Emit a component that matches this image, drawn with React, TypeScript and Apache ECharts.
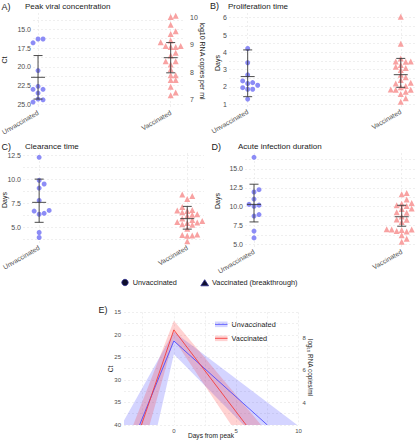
import React, { useEffect, useRef } from 'react';
import * as echarts from 'echarts';

const FONT = '"Liberation Sans", Arial, Helvetica, sans-serif';

// ---------- data ----------
const groups = ['Unvaccinated', 'Vaccinated'];

// A) Peak viral concentration
const peakCtUnvax = [16.3, 16.3, 16.8, 20.5, 22.6, 23.0, 23.0, 23.5, 24.3, 24.4, 24.7];
const peakLogVax = [10.08, 10.04, 9.75, 9.51, 9.41, 9.17, 9.1, 9.1, 8.96, 8.96, 8.93, 8.93, 8.71, 8.61, 8.4, 8.4, 8.28, 8.1, 7.88, 7.88, 7.7, 7.7, 7.45, 7.24, 7.14];
const peakStatUnvax = [21.4, 18.5, 24.3]; // mean, low, high (Ct)
const peakStatVax = [8.53, 7.97, 9.09]; // mean, low, high (log10)

// B) Proliferation time
const prolifUnvax = [4.22, 3.4, 2.7, 2.35, 2.25, 2.2, 2.1, 1.96, 1.87, 1.87, 1.3];
const prolifVax = [6.05, 4.5, 3.65, 3.47, 3.47, 3.45, 3.27, 3.17, 3.1, 2.98, 2.7, 2.56, 2.4, 2.25, 2.2, 2.06, 1.98, 1.98, 1.86, 1.84, 1.84, 1.72, 1.6, 1.35, 1.15];
const prolifStats = [[2.6, 1.44, 4.14], [2.71, 1.98, 3.65]];

// C) Clearance time
const clearUnvax = [12.33, 9.93, 9.55, 9.13, 7.84, 6.8, 6.73, 6.5, 6.4, 4.5, 3.98];
const clearVax = [8.45, 8.3, 8.0, 7.15, 6.85, 6.8, 6.75, 6.6, 6.4, 6.35, 6.25, 5.95, 5.8, 5.7, 5.6, 5.55, 5.5, 5.35, 5.3, 4.9, 4.3, 4.25, 4.2, 4.15, 3.6];
const clearStats = [[7.64, 5.56, 10.06], [5.94, 4.85, 7.22]];

// D) Acute infection duration
const acuteUnvax = [16.55, 12.25, 11.95, 11.0, 10.3, 10.2, 10.05, 8.95, 8.75, 6.75, 5.85];
const acuteVax = [11.8, 11.65, 10.95, 10.5, 10.4, 10.2, 10.1, 9.75, 9.7, 9.25, 9.2, 8.7, 8.3, 8.25, 7.95, 7.0, 7.0, 6.95, 6.95, 6.9, 6.75, 6.7, 6.2, 5.75, 5.35];
const acuteStats = [[10.3, 7.97, 12.98], [8.66, 7.4, 10.18]];

// E) Trajectories (days from peak, Ct)
const trajDaysUnvax = [-2.75, 0, 7.5];
const trajCtUnvax = [40, 21.35, 40];
const trajDaysVax = [-2.6, 0, 5.8];
const trajCtVax = [40, 18.9, 40];
const bandUnvax = [[-4, 40], [-4, 39], [0, 19.3], [9.9, 40], [5.6, 40], [0, 24.3], [-1.3, 40]];
const bandVax = [[-3.26, 40], [0, 16.9], [7.0, 40], [4.6, 40], [0, 21.0], [-1.95, 40]];

// tick labels
const ctTicksA = [15, 17.5, 20, 22.5, 25];
const logTicksA = [7, 8, 9, 10];
const dayTicksB = [1, 2, 3, 4, 5, 6];
const dayTicksC = [5, 7.5, 10, 12.5];
const dayTicksD = [5, 7.5, 10, 12.5, 15];
const ctTicksE = [15, 20, 25, 30, 35, 40];
const logTicksE = [4, 6, 8];
const dayTicksE = [0, 5, 10];

// ---------- layout ----------
type Panel = { left: number; top: number; width: number; height: number; xMin: number; xMax: number; yMin: number; yMax: number };
const PA: Panel = { left: 33, top: 13, width: 152, height: 95, xMin: -0.038, xMax: 1.108, yMin: 12.83, yMax: 25.49 };
const PA_R = { yMin: 6.667, yMax: 10.185 };
const PB: Panel = { left: 229, top: 13, width: 186, height: 94, xMin: -0.122, xMax: 1.093, yMin: 0.844, yMax: 6.271 };
const PC: Panel = { left: 23, top: 153, width: 181, height: 90, xMin: -0.109, xMax: 1.113, yMin: 3.406, yMax: 12.78 };
const PD: Panel = { left: 245, top: 153, width: 170, height: 94, xMin: -0.061, xMax: 1.09, yMin: 4.64, yMax: 17.125 };
const PE: Panel = { left: 124, top: 312.3, width: 174.5, height: 112.7, xMin: -4, xMax: 10, yMin: 15, yMax: 40 };
const PE_R = { yMin: 2.61, yMax: 9.61 };

const BLUE_PT = '#8c8cf6';
const RED_PT = '#f8a2a2';
const BAR = '#383838';
const GRID_LINE = { show: true, lineStyle: { color: '#e4e4e4', width: 0.6, type: [2, 2] as any } };
const TICK_TEXT = { fontSize: 7, color: '#4d4d4d', fontFamily: FONT };

function range(a: number, b: number, step: number) {
  const out: number[] = [];
  for (let v = a; v <= b + 1e-9; v += step) out.push(Math.round(v * 1000) / 1000);
  return out;
}

function swarm(vals: number[], pxY: number, pxX: number, d: number): number[] {
  const order = vals.map((_, i) => i).sort((a, b) => vals[a] - vals[b]);
  const placed: [number, number][] = [];
  const out = vals.map(() => 0);
  for (const i of order) {
    const y = vals[i] * pxY;
    for (let k = 0; k < 40; k++) {
      const step = Math.ceil(k / 2) * (k % 2 === 1 ? 1 : -1);
      const x = step * d;
      if (placed.every(([px, py]) => (px - x) ** 2 + (py - y) ** 2 >= d * d * 0.92)) {
        placed.push([x, y]);
        out[i] = x / pxX;
        break;
      }
    }
  }
  return out;
}

function pxPer(p: Panel, yMin = p.yMin, yMax = p.yMax) {
  return { x: p.width / (p.xMax - p.xMin), y: p.height / (yMax - yMin) };
}

function scatterSeries(vals: number[], cat: number, pxY: number, pxX: number, xi: number, yi: number, tri: boolean) {
  const off = swarm(vals, pxY, pxX, 5);
  return {
    type: 'scatter',
    xAxisIndex: xi,
    yAxisIndex: yi,
    symbol: tri ? 'triangle' : 'circle',
    symbolSize: tri ? 6 : 5,
    itemStyle: { color: tri ? RED_PT : BLUE_PT, opacity: 1 },
    data: vals.map((v, i) => [cat + off[i], v]),
    z: 2,
    silent: true,
  };
}

function errRender(params: any, api: any) {
  const x = api.value(0);
  const pm = api.coord([x, api.value(1)]);
  const pl = api.coord([x, api.value(2)]);
  const ph = api.coord([x, api.value(3)]);
  const st = { stroke: BAR, lineWidth: 0.9 };
  return {
    type: 'group',
    children: [
      { type: 'line', shape: { x1: pl[0], y1: pl[1], x2: ph[0], y2: ph[1] }, style: st },
      { type: 'line', shape: { x1: pl[0] - 4.5, y1: pl[1], x2: pl[0] + 4.5, y2: pl[1] }, style: st },
      { type: 'line', shape: { x1: ph[0] - 4.5, y1: ph[1], x2: ph[0] + 4.5, y2: ph[1] }, style: st },
      { type: 'line', shape: { x1: pm[0] - 7, y1: pm[1], x2: pm[0] + 7, y2: pm[1] }, style: st },
    ],
  };
}

function errSeries(stats: number[][], cats: number[], xi: number, yi: number) {
  return {
    type: 'custom',
    xAxisIndex: xi,
    yAxisIndex: yi,
    renderItem: errRender,
    encode: { x: 0, y: [1, 2, 3] },
    data: stats.map((s, i) => [cats[i], s[0], s[1], s[2]]),
    z: 3,
    silent: true,
  };
}

function bandSeries(band: number[][], fill: string) {
  return {
    type: 'custom',
    xAxisIndex: 4,
    yAxisIndex: 5,
    silent: true,
    encode: { x: 0, y: 1 },
    data: band,
    z: 1,
    renderItem: (params: any, api: any) => {
      if (params.dataIndex !== 0) return null;
      return {
        type: 'polygon',
        shape: { points: band.map((p) => api.coord(p)) },
        style: { fill, stroke: 'none' },
      };
    },
  };
}

function catXAxis(p: Panel, gi: number) {
  return {
    type: 'value',
    gridIndex: gi,
    min: p.xMin,
    max: p.xMax,
    axisLine: { show: false },
    axisTick: { show: false, customValues: [0, 1] },
    axisLabel: {
      ...TICK_TEXT,
      fontSize: 6.8,
      customValues: [0, 1],
      formatter: (v: number) => groups[Math.round(v)],
      rotate: 30,
      margin: 4,
    },
    splitLine: GRID_LINE,
  };
}

function valYAxis(gi: number, min: number, max: number, ticks: number[], labels: number[], fmt: (v: number) => string, opts: any = {}) {
  return {
    type: 'value',
    gridIndex: gi,
    min,
    max,
    axisLine: { show: false },
    axisTick: { show: false, customValues: ticks },
    axisLabel: { ...TICK_TEXT, customValues: labels, formatter: fmt, margin: 2 },
    splitLine: GRID_LINE,
    ...opts,
  };
}

function txt(text: string, x: number, y: number, size: number, opts: any = {}) {
  return {
    type: 'text',
    x,
    y,
    rotation: opts.rotation || 0,
    silent: true,
    style: {
      text,
      fontSize: size,
      fontFamily: FONT,
      fill: opts.fill || '#1a1a1a',
      align: opts.align || 'left',
      verticalAlign: 'middle',
    },
  };
}

function buildOption() {
  const a = pxPer(PA);
  const aR = pxPer(PA, PA_R.yMin, PA_R.yMax);
  const b = pxPer(PB);
  const c = pxPer(PC);
  const d = pxPer(PD);
  const f1 = (v: number) => v.toFixed(1);
  const f0 = (v: number) => String(v);

  const grids = [PA, PB, PC, PD, PE].map((p) => ({
    left: p.left,
    top: p.top,
    width: p.width,
    height: p.height,
    containLabel: false,
    outerBoundsMode: 'none',
  }));

  const xAxis: any[] = [
    catXAxis(PA, 0),
    catXAxis(PB, 1),
    catXAxis(PC, 2),
    catXAxis(PD, 3),
    {
      type: 'value',
      gridIndex: 4,
      min: PE.xMin,
      max: PE.xMax,
      axisLine: { show: false },
      axisTick: { show: false, customValues: range(-2.5, 10, 2.5) },
      axisLabel: { ...TICK_TEXT, fontSize: 6, customValues: dayTicksE, formatter: f0, margin: 3 },
      splitLine: GRID_LINE,
    },
  ];

  const yAxis: any[] = [
    valYAxis(0, PA.yMin, PA.yMax, range(13.75, 25, 1.25), ctTicksA, f1, { inverse: true }),
    valYAxis(0, PA_R.yMin, PA_R.yMax, logTicksA, logTicksA, f0, { position: 'right', splitLine: { show: false }, axisLabel: { ...TICK_TEXT, customValues: logTicksA, formatter: f0, margin: 5 } }),
    valYAxis(1, PB.yMin, PB.yMax, range(1, 6, 0.5), dayTicksB, f0),
    valYAxis(2, PC.yMin, PC.yMax, range(3.75, 12.5, 1.25), dayTicksC, f1),
    valYAxis(3, PD.yMin, PD.yMax, range(5, 16.25, 1.25), dayTicksD, f1),
    valYAxis(4, PE.yMin, PE.yMax, range(15, 40, 2.5), ctTicksE, f0, { inverse: true, axisLabel: { ...TICK_TEXT, fontSize: 6, customValues: ctTicksE, formatter: f0, margin: 3 } }),
    valYAxis(4, PE_R.yMin, PE_R.yMax, logTicksE, logTicksE, f0, { position: 'right', splitLine: { show: false }, axisLabel: { ...TICK_TEXT, fontSize: 6, customValues: logTicksE, formatter: f0, margin: 4 } }),
  ];

  const series: any[] = [
    // A
    scatterSeries(peakCtUnvax, 0, a.y, a.x, 0, 0, false),
    scatterSeries(peakLogVax, 1, aR.y, a.x, 0, 1, true),
    errSeries([peakStatUnvax], [0], 0, 0),
    errSeries([peakStatVax], [1], 0, 1),
    // B
    scatterSeries(prolifUnvax, 0, b.y, b.x, 1, 2, false),
    scatterSeries(prolifVax, 1, b.y, b.x, 1, 2, true),
    errSeries(prolifStats, [0, 1], 1, 2),
    // C
    scatterSeries(clearUnvax, 0, c.y, c.x, 2, 3, false),
    scatterSeries(clearVax, 1, c.y, c.x, 2, 3, true),
    errSeries(clearStats, [0, 1], 2, 3),
    // D
    scatterSeries(acuteUnvax, 0, d.y, d.x, 3, 4, false),
    scatterSeries(acuteVax, 1, d.y, d.x, 3, 4, true),
    errSeries(acuteStats, [0, 1], 3, 4),
    // E
    bandSeries(bandUnvax, 'rgba(40,40,255,0.2)'),
    bandSeries(bandVax, 'rgba(255,30,30,0.2)'),
    {
      type: 'line',
      xAxisIndex: 4,
      yAxisIndex: 5,
      showSymbol: false,
      silent: true,
      z: 4,
      lineStyle: { color: 'rgba(70,70,255,0.85)', width: 1 },
      data: trajDaysUnvax.map((x, i) => [x, trajCtUnvax[i]]),
    },
    {
      type: 'line',
      xAxisIndex: 4,
      yAxisIndex: 5,
      showSymbol: false,
      silent: true,
      z: 4,
      lineStyle: { color: 'rgba(245,60,60,0.9)', width: 1 },
      data: trajDaysVax.map((x, i) => [x, trajCtVax[i]]),
    },
  ];

  const graphic: any[] = [
    txt('A)', 1.5, 6.5, 9),
    txt('Peak viral concentration', 25, 6.5, 8),
    txt('B)', 210, 6, 9),
    txt('Proliferation time', 228, 6.5, 8),
    txt('C)', 1.5, 146.5, 9),
    txt('Clearance time', 25, 146.5, 8),
    txt('D)', 211.5, 146.5, 9),
    txt('Acute infection duration', 238, 146.5, 8),
    txt('E)', 98.5, 310, 9),
    txt('Ct', 4.5, 60, 7, { align: 'center', rotation: Math.PI / 2 }),
    txt('log10 RNA copies per ml', 202.5, 61, 7, { align: 'center', rotation: -Math.PI / 2 }),
    txt('Days', 217, 63, 7, { align: 'center', rotation: Math.PI / 2 }),
    txt('Days', 4, 200, 7, { align: 'center', rotation: Math.PI / 2 }),
    txt('Days', 217, 201, 7, { align: 'center', rotation: Math.PI / 2 }),
    txt('Ct', 110.7, 369, 6.6, { align: 'center', rotation: Math.PI / 2 }),
    txt('log\u2081\u2080 RNA copies/ml', 310, 367.5, 6.4, { align: 'center', rotation: -Math.PI / 2 }),
    txt('Days from peak', 211, 435.5, 6.6, { align: 'center' }),
    // bottom legend
    { type: 'circle', silent: true, shape: { cx: 125, cy: 282.5, r: 3.2 }, style: { fill: '#0e0e2c', stroke: '#2b2b8c', lineWidth: 0.8 } },
    txt('Unvaccinated', 132.7, 282.5, 7.3),
    { type: 'polygon', silent: true, shape: { points: [[204.7, 279.7], [208.6, 285.8], [200.8, 285.8]] }, style: { fill: '#0e0e2c', stroke: '#2b2b8c', lineWidth: 0.8 } },
    txt('Vaccinated (breakthrough)', 212, 282.5, 7.3),
    // E legend
    { type: 'rect', silent: true, shape: { x: 215, y: 321.5, width: 12.5, height: 5.6 }, style: { fill: 'rgba(40,40,255,0.2)' } },
    { type: 'line', silent: true, shape: { x1: 215, y1: 324.3, x2: 227.5, y2: 324.3 }, style: { stroke: 'rgba(70,70,255,0.85)', lineWidth: 1 } },
    txt('Unvaccinated', 231.5, 324.3, 7.3),
    { type: 'rect', silent: true, shape: { x: 215, y: 335.5, width: 12.5, height: 5.6 }, style: { fill: 'rgba(255,30,30,0.2)' } },
    { type: 'line', silent: true, shape: { x1: 215, y1: 338.3, x2: 227.5, y2: 338.3 }, style: { stroke: 'rgba(245,60,60,0.9)', lineWidth: 1 } },
    txt('Vaccinated', 231.5, 338.3, 7.3),
  ];

  return {
    animation: false,
    backgroundColor: '#ffffff',
    textStyle: { fontFamily: FONT },
    grid: grids,
    xAxis,
    yAxis,
    series,
    graphic,
  };
}

export default function App() {
  const ref = useRef<HTMLDivElement>(null);
  useEffect(() => {
    if (!ref.current) return;
    const chart = echarts.init(ref.current, null, { renderer: 'svg' });
    chart.setOption(buildOption() as any);
    return () => chart.dispose();
  }, []);
  return (
    <div
      ref={ref}
      style={{ position: 'absolute', left: 0, top: 0, width: 420, height: 440, background: '#fff' }}
    />
  );
}
